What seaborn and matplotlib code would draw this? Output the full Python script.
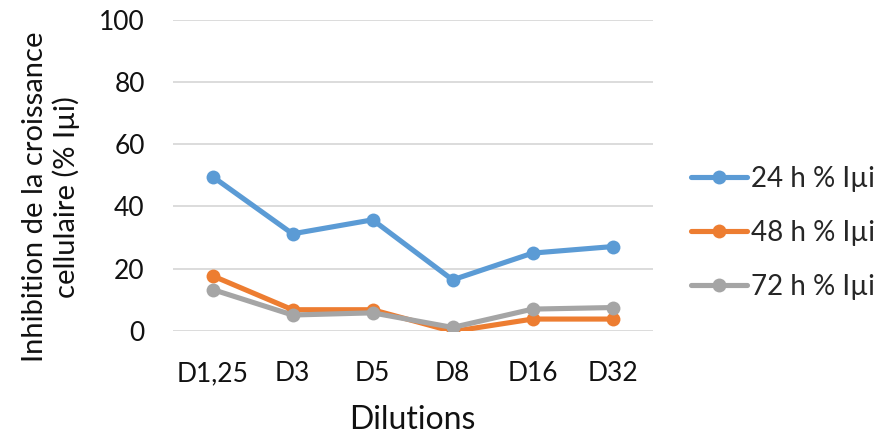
import numpy as np
import pandas as pd
import seaborn as sns
import matplotlib.pyplot as plt

dilutions = ['D1,25', 'D3', 'D5', 'D8', 'D16', 'D32']
series_names = ['24 h % Iµi', '48 h % Iµi', '72 h % Iµi']
inh_24h = [49.6, 31.2, 35.7, 16.4, 25.0, 27.1]
inh_48h = [17.7, 6.8, 6.8, -0.2, 3.8, 3.8]
inh_72h = [13.3, 5.1, 5.8, 1.1, 7.0, 7.5]
colors = ['#5B9BD5', '#ED7D31', '#A5A5A5']

data = pd.DataFrame({
    'Dilutions': dilutions * 3,
    'value': inh_24h + inh_48h + inh_72h,
    'serie': np.repeat(series_names, len(dilutions)),
})

sns.set_style('white')
plt.rcParams['font.family'] = ['Lato', 'DejaVu Sans']

fig = plt.figure(figsize=(8.94, 4.4), dpi=100)
ax = fig.add_axes([0.193, 0.248, 0.537, 0.707])

sns.lineplot(data=data, x='Dilutions', y='value', hue='serie', palette=colors,
             marker='o', markersize=10, markeredgewidth=0, linewidth=3.7,
             sort=False, ax=ax)

ax.set_ylim(0, 100)
ax.set_yticks(range(0, 101, 20))
ax.set_xlim(-0.5, len(dilutions) - 0.5)
ax.yaxis.grid(True, color='#D9D9D9', linewidth=1.3)
ax.set_axisbelow(True)
for s in ax.spines.values():
    s.set_visible(False)
ax.tick_params(axis='both', length=0, labelsize=19, labelcolor='#111111')
ax.tick_params(axis='y', pad=20)
ax.tick_params(axis='x', pad=22)

ax.set_xlabel('Dilutions', fontsize=23, va='center', color='#111111')
ax.xaxis.set_label_coords(0.5, -0.286)
ax.set_ylabel('Inhibition de la croissance\ncellulaire (% Iµi)', fontsize=21,
              va='center', linespacing=1.2, color='#111111')
ax.yaxis.set_label_coords(-0.254, 0.431)

ax.legend(loc='center left', bbox_to_anchor=(691 / 894, 1 - 233 / 440),
          bbox_transform=fig.transFigure, frameon=False, borderpad=0,
          borderaxespad=0, fontsize=20, handlelength=2.0, handletextpad=0.15,
          labelspacing=1.0)

fig.savefig('out.png', dpi=100)
